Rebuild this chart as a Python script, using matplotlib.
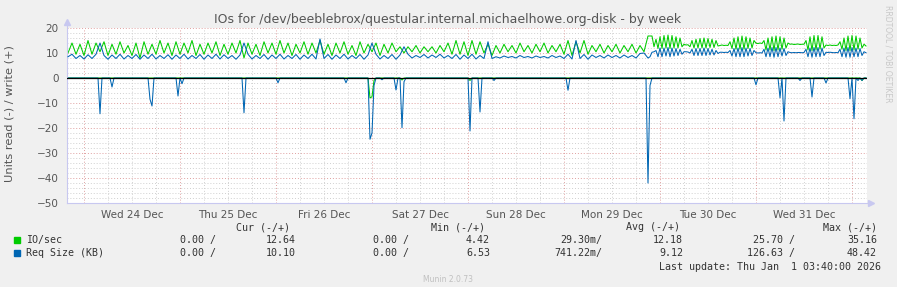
import numpy as np
import matplotlib
matplotlib.use("Agg")
import matplotlib.pyplot as plt

W, H = 897, 287

# writes, part 1: one value per hour, hours since Wed 24 Dec 00:00, from -4 to 140
write_io_a = [
    10, 14, 9.5, 13.5,
    # Wed 24
    9, 15, 9.5, 14, 10.5, 14.5, 9, 13.5, 9.5, 14.5, 10, 13, 9, 14, 8, 14.5, 9.5, 13.5, 9.5, 15, 10, 14, 9, 14.5,
    # Thu 25
    9.5, 14, 10, 15, 9, 13.5, 9.5, 14, 10, 14.5, 9, 13.5, 9.5, 14, 10, 15, 8, 14, 9.5, 13.5, 9, 14.5, 10, 14,
    # Fri 26
    9.5, 15, 10, 14, 9, 13.5, 10, 14.5, 9.5, 14, 10, 15, 9.5, 13.5, 9, 14, 10, 14.5, 9.5, 13, 9, 14.5, 10, 13.5,
    # Sat 27
    10.5, 14, 9, 13.5, 10, 14, 10.5, 12.5, 10, 12.5, 10.5, 13, 10, 12.5, 10.5, 12.5, 10, 13, 10.5, 14, 9.5, 15, 9.5, 14.5,
    # Sun 28
    9, 15, 9.5, 14.5, 10, 13.5, 9, 13, 10, 13.5, 10.5, 13, 10, 14, 10.5, 13, 10, 13.5, 10.5, 14, 10, 13, 10.5, 13.5,
    # Mon 29 (to 20:00)
    9.5, 15, 9, 14.5, 10, 15, 9.5, 13, 10.5, 13.5, 10, 13, 10.5, 13.5, 10, 13, 10.5, 13.5, 10, 13, 10.5,
]
write_req_a = [
    8.5, 9.5, 7.8, 9,
    7.6, 9.3, 7.8, 9.5, 14, 9, 7.5, 9.2, 7.8, 9.5, 7.6, 9, 7.8, 9.4, 7.5, 9.2, 7.8, 9.5, 7.6, 9, 7.8, 9.3, 7.5, 9.2,
    7.8, 9.5, 7.6, 9, 7.8, 9.4, 7.5, 9.2, 7.8, 9.5, 7.6, 9.3, 7.8, 9, 7.5, 9.2, 14, 9.5, 7.6, 9, 7.8, 9.4, 7.5, 9.2,
    7.8, 9.5, 7.6, 9, 7.8, 9.4, 7.5, 9.2, 7.8, 9.5, 7.6, 15.6, 7.8, 9.4, 7.5, 9.2, 7.8, 9.5, 7.6, 9, 7.8, 9.4, 7.5, 9.2,
    14, 9.5, 7.6, 9, 7.8, 9.4, 7.5, 9.2, 12.5, 9.5, 8, 9, 8.2, 9.4, 8, 9.2, 8.2, 9.5, 8, 9, 7.8, 9.4, 7.5, 9.2,
    7.8, 9.5, 7.6, 9, 7.8, 14.5, 7.8, 8.5, 8, 8.8, 8.2, 8.6, 8, 9, 8.2, 8.6, 8, 8.8, 8.2, 8.6, 8, 9, 8.2, 8.8,
    7.8, 9.5, 7.6, 15, 7.8, 9.4, 7.5, 9.2, 8.2, 9, 8, 9.2, 8.2, 9, 8, 9.2, 8.2, 9, 8, 9.8, 10,
]

# writes, part 2: one value per half hour from Mon 29 21:00 (hour 141) to the end
write_io_b = [
    16.8, 16.8, 16.8, 12.5, 15.5, 11.8, 16.5, 11.8, 17, 12, 17.2, 11.8, 17, 12, 16.5, 12, 16, 12.5,
    13.5, 13.2, 13.3, 12.5, 15, 12, 15.5, 12, 15.8, 12, 16, 12, 15.8, 12.2, 15.5, 12.2, 15, 12.8,
    13, 13.2, 13, 13.1, 13, 14.5, 11.8, 16, 11.5, 16.5, 11.5, 16.8, 11.5, 16.5, 11.8, 16, 12, 15,
    13.9, 13.8, 14, 13.8, 15, 11.2, 16, 11.2, 16.5, 11, 16.8, 11.2, 16.5, 11.5, 16, 12,
    14, 13.5, 13.6, 13.4, 13.5, 13.6, 13.4, 13.5, 13.5, 15, 11.2, 16.5, 11, 17, 11.2, 17, 11.5, 16.5, 12,
    13.2, 13, 13.2, 13, 13.1, 13, 13.2, 14.5, 11.5, 16, 11, 16.8, 11, 17, 11.2, 16.8, 11.5, 16, 12, 13.5, 12.8,
]
write_req_b = [
    8, 8.5, 10.3, 10.5, 11, 8.5, 12, 8.5, 12, 8.8, 12.2, 8.5, 12, 8.8, 11.8, 9, 11.5, 9.5,
    10.5, 10.5, 10.4, 10, 11.5, 9, 11.8, 9, 11.8, 9, 12, 9, 11.8, 9.2, 11.5, 9.2, 11, 9.8,
    10.3, 10.3, 10.2, 10.3, 10.2, 11, 8.8, 11.8, 8.5, 12, 8.5, 12.2, 8.5, 12, 8.8, 11.8, 9, 11,
    10.1, 10, 10.1, 10, 11.5, 8.5, 12, 8.5, 12.2, 8.3, 12.2, 8.5, 12, 8.8, 11.8, 9,
    10.5, 10.2, 10.1, 10.2, 10.1, 10.2, 10.2, 10.1, 10.2, 11.5, 8.5, 12, 8.3, 12.2, 8.5, 12.2, 8.5, 12, 9,
    10.3, 10.2, 10.3, 10.2, 10.1, 10.2, 10.1, 11.5, 8.5, 12, 8.3, 12.2, 8.3, 12.2, 8.5, 12, 8.5, 11.8, 9, 10.5, 10.1,
]

# read spikes (hour, value); reads are zero elsewhere
read_io_t = [71.5, 72.0, 72.5, 79.5, 96.5, 194.5]
read_io_v = [-8.0, -7.5, -1.0, -0.8, -1.0, -1.0]
read_req_t = [4.0, 7.0, 16.5, 17.0, 23.5, 24.5, 40.0, 48.5, 65.5, 71.5, 72.0, 72.5, 74.5,
              78.0, 79.5, 80.0, 96.5, 99.0, 102.5, 121.0, 141.0, 141.5, 168.0, 174.0,
              175.0, 179.0, 182.0, 185.5, 191.5, 192.5, 193.5, 194.5]
read_req_v = [-14.3, -3.6, -8.5, -11.2, -7.2, -2.3, -13.9, -1.9, -1.9, -24.5, -22.0, -3.0, -0.7,
              -4.8, -19.9, -1.5, -21.2, -13.6, -1.0, -4.9, -42.0, -3.0, -2.7, -7.9,
              -17.2, -1.0, -7.6, -2.0, -8.3, -16.3, -1.0, -1.0]

day_labels = ["Wed 24 Dec", "Thu 25 Dec", "Fri 26 Dec", "Sat 27 Dec",
              "Sun 28 Dec", "Mon 29 Dec", "Tue 30 Dec", "Wed 31 Dec"]

legend_rows = [
    ("IO/sec", "#00CC00", ["0.00 /", "12.64", "0.00 /", "4.42", "29.30m/", "12.18", "25.70 /", "35.16"]),
    ("Req Size (KB)", "#0066B3", ["0.00 /", "10.10", "0.00 /", "6.53", "741.22m/", "9.12", "126.63 /", "48.42"]),
]
legend_heads = ["Cur (-/+)", "Min (-/+)", "Avg (-/+)", "Max (-/+)"]


def spikes(ts, vs, grid):
    out = np.zeros_like(grid)
    for t, v in zip(ts, vs):
        out[np.argmin(np.abs(grid - t))] = v
    return out


def fx(x):
    return x / W


def fy(y):
    return 1 - y / H


fig = plt.figure(figsize=(W / 100, H / 100), dpi=100, facecolor="#F0F0F0")
ax = fig.add_axes([fx(67), fy(203), (867 - 67) / W, (203 - 28) / H])
ax.set_facecolor("white")
ax.set_xlim(-4.25, 195.75)
ax.set_ylim(-50, 20)

# grid: minor every 2 units / 6 hours, major every 10 units / midnight
for y in range(-50, 21, 2):
    major = y % 10 == 0
    ax.axhline(y, color="#E0A0A0" if major else "#D0D0D0", lw=0.7,
               ls=(0, (1, 2)), zorder=0)
for h in range(0, 196, 6):
    major = h % 24 == 0
    ax.axvline(h, color="#E0A0A0" if major else "#D0D0D0", lw=0.7,
               ls=(0, (1, 2)), zorder=0)

t_write = np.concatenate([-4 + np.arange(len(write_io_a)),
                          141 + 0.5 * np.arange(len(write_io_b))])
io_write = np.concatenate([write_io_a, write_io_b])
req_write = np.concatenate([write_req_a, write_req_b])
grid = np.arange(-4, 195.75, 0.5)

lw = 0.75
ax.plot(grid, spikes(read_io_t, read_io_v, grid), color="#00CC00", lw=lw, zorder=2)
ax.plot(grid, spikes(read_req_t, read_req_v, grid), color="#0066B3", lw=lw, zorder=2)
ax.plot(t_write, io_write, color="#00CC00", lw=lw, zorder=2)
ax.plot(t_write, req_write, color="#0066B3", lw=lw, zorder=3)
ax.axhline(0, color="black", lw=0.9, zorder=4)

for s in ax.spines.values():
    s.set_visible(False)
ax.plot([0, 0], [0, 1.035], transform=ax.transAxes, color="#C8C8F0", lw=0.8, clip_on=False)
ax.plot([0, 1.005], [0, 0], transform=ax.transAxes, color="#C8C8F0", lw=0.8, clip_on=False)
ax.plot([0], [1.035], transform=ax.transAxes, marker="^", ms=4, color="#C8C8F0", clip_on=False)
ax.plot([1.005], [0], transform=ax.transAxes, marker=">", ms=4, color="#C8C8F0", clip_on=False)

ax.set_yticks(range(-50, 21, 10))
ax.set_xticks([12 + 24 * i for i in range(len(day_labels))])
ax.set_xticklabels(day_labels)
ax.tick_params(length=0, labelsize=7.5, colors="#555555")
ax.tick_params(axis="y", pad=6)
ax.tick_params(axis="x", pad=5)

fig.text(fx(448), fy(20), "IOs for /dev/beeblebrox/questular.internal.michaelhowe.org-disk - by week",
         ha="center", va="center", fontsize=9, color="#555555")
fig.text(fx(10), fy(114), "Units read (-) / write (+)", rotation=90,
         ha="center", va="center", fontsize=8.2, color="#555555")
fig.text(fx(888), fy(5), "RRDTOOL / TOBI OETIKER", rotation=270,
         ha="center", va="top", fontsize=5.5, color="#C8C8C8")

mono = dict(family="DejaVu Sans Mono", fontsize=7.2, color="#333333", va="center")
for txt, xr in zip(legend_heads, [290, 485, 680, 877]):
    fig.text(fx(xr), fy(227), txt, ha="right", **mono)
value_x = [216, 296, 409, 490, 602, 683, 795, 877]
for i, (name, col, vals) in enumerate(legend_rows):
    yy = 240 + 13 * i
    fig.patches.append(plt.Rectangle((fx(14), fy(yy + 3)), 6 / W, 6 / H,
                                     transform=fig.transFigure, color=col))
    fig.text(fx(26), fy(yy), name, ha="left", **mono)
    for v, xr in zip(vals, value_x):
        fig.text(fx(xr), fy(yy), v, ha="right", **mono)
fig.text(fx(881), fy(267), "Last update: Thu Jan  1 03:40:00 2026", ha="right", **mono)
fig.text(fx(448), fy(279), "Munin 2.0.73", ha="center", va="center", fontsize=5.5, color="#C0C0C0")

fig.savefig("out.png", dpi=100, facecolor=fig.get_facecolor())
